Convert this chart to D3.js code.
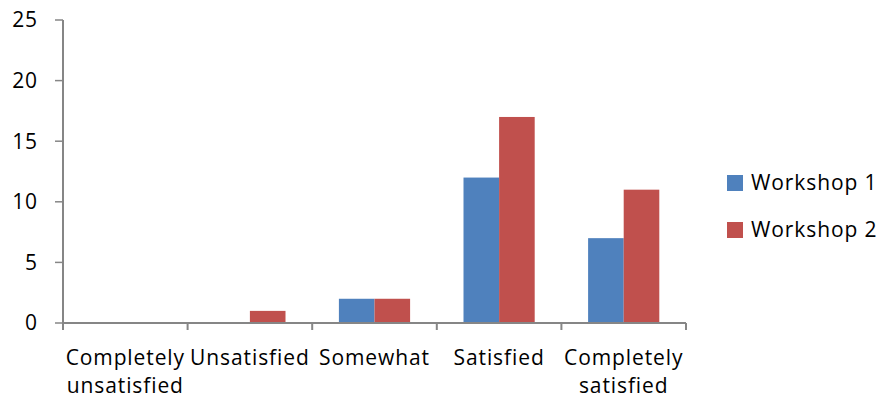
<!DOCTYPE html>
<html>
<head>
<meta charset="utf-8">
<script src="https://d3js.org/d3.v7.min.js"></script>
<style>
  body { margin: 0; background: #fff; }
  text { font-family: "Open Sans", Lato, sans-serif; fill: #000; letter-spacing: 0.9px; }
</style>
</head>
<body>
<svg id="viz"></svg>
<script>
var width = 884;
var height = 401;

var categories = [["Completely", "unsatisfied"], ["Unsatisfied"], ["Somewhat"], ["Satisfied"], ["Completely", "satisfied"]];
var seriesNames = ["Workshop 1", "Workshop 2"];
var workshop1 = [0, 0, 2, 12, 7];
var workshop2 = [0, 1, 2, 17, 11];
var yTicks = [0, 5, 10, 15, 20, 25];
var colors = ["#4f81bd", "#c0504d"];

var svg = d3.select("#viz")
    .attr("width", width)
    .attr("height", height);

var plotLeft = 63, plotRight = 686, plotTop = 20, plotBottom = 323;

var x = d3.scaleBand()
    .domain(d3.range(categories.length))
    .range([plotLeft, plotRight]);

var y = d3.scaleLinear()
    .domain([0, 25])
    .range([plotBottom, plotTop]);

// bar width: excel gap 150%
var bw = x.bandwidth() / 3.5;
var x1 = d3.scaleBand()
    .domain([0, 1])
    .range([x.bandwidth() / 2 - bw, x.bandwidth() / 2 + bw]);

var series = [workshop1, workshop2];

series.forEach(function (vals, si) {
    svg.selectAll(".bar" + si)
        .data(vals)
        .enter().append("rect")
        .attr("x", function (d, i) { return x(i) + x1(si); })
        .attr("width", x1.bandwidth())
        .attr("y", function (d) { return y(d); })
        .attr("height", function (d) { return plotBottom - y(d); })
        .attr("fill", colors[si]);
});

// y axis
var axisColor = "#868686";
svg.append("line")
    .attr("x1", plotLeft).attr("x2", plotLeft)
    .attr("y1", plotTop).attr("y2", plotBottom)
    .style("stroke", axisColor).style("stroke-width", 2);

svg.selectAll(".ytick")
    .data(yTicks)
    .enter().append("line")
    .attr("x1", plotLeft - 8).attr("x2", plotLeft)
    .attr("y1", function (d) { return y(d); })
    .attr("y2", function (d) { return y(d); })
    .style("stroke", axisColor).style("stroke-width", 1.5);

svg.selectAll(".ylabel")
    .data(yTicks)
    .enter().append("text")
    .attr("x", 38)
    .attr("y", function (d) { return y(d); })
    .attr("dy", "0.35em")
    .attr("text-anchor", "end")
    .style("font-size", "21px")
    .text(function (d) { return d; });

// x axis
svg.append("line")
    .attr("x1", plotLeft).attr("x2", plotRight)
    .attr("y1", plotBottom).attr("y2", plotBottom)
    .style("stroke", axisColor).style("stroke-width", 2);

var xTickPos = d3.range(categories.length).map(function (i) { return x(i); }).concat([plotRight]);
svg.selectAll(".xtick")
    .data(xTickPos)
    .enter().append("line")
    .attr("x1", function (d) { return d; }).attr("x2", function (d) { return d; })
    .attr("y1", plotBottom).attr("y2", plotBottom + 7)
    .style("stroke", axisColor).style("stroke-width", 2);

var labels = svg.selectAll(".xlabel")
    .data(categories)
    .enter().append("text")
    .attr("text-anchor", "middle")
    .style("font-size", "21px");

labels.selectAll("tspan")
    .data(function (d, i) { return d.map(function (t) { return { t: t, i: i }; }); })
    .enter().append("tspan")
    .attr("x", function (d) { return x(d.i) + x.bandwidth() / 2; })
    .attr("y", function (d, j) { return 365 + j * 28; })
    .text(function (d) { return d.t; });

// legend
var legend = svg.selectAll(".legend")
    .data(seriesNames)
    .enter().append("g")
    .attr("transform", function (d, i) { return "translate(727," + (175 + i * 47) + ")"; });

legend.append("rect")
    .attr("width", 16).attr("height", 16)
    .attr("fill", function (d, i) { return colors[i]; });

legend.append("text")
    .attr("x", 24).attr("y", 8)
    .attr("dy", "0.35em")
    .style("font-size", "21px")
    .text(function (d) { return d; });
</script>
</body>
</html>
